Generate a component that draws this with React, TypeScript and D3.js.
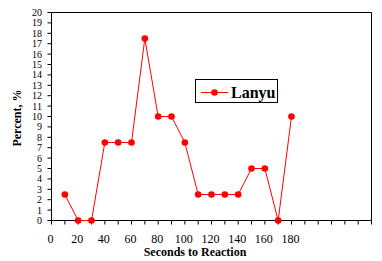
import React from "react";
import * as d3 from "d3";

const seconds = [10, 20, 30, 40, 50, 60, 70, 80, 90, 100, 110, 120, 130, 140, 150, 160, 170, 180];
const lanyu = [2.5, 0, 0, 7.5, 7.5, 7.5, 17.5, 10, 10, 7.5, 2.5, 2.5, 2.5, 2.5, 5, 5, 0, 10];
const xTickValues = d3.range(0, 250, 10);
const xLabelValues = [0, 20, 40, 60, 80, 100, 120, 140, 160, 180];
const yTickValues = d3.range(0, 21, 1);
const seriesName = "Lanyu";
const xTitle = "Seconds to Reaction";
const yTitle = "Percent, %";

export default function App() {
  const W = 382, H = 261;
  const x = d3.scaleLinear().domain([0, 240]).range([51.5, 371.5]);
  const y = d3.scaleLinear().domain([0, 20]).range([220.5, 12.5]);
  const data = seconds.map((s, i) => [s, lanyu[i]] as [number, number]);
  const line = d3.line<[number, number]>().x(d => x(d[0])).y(d => y(d[1]));
  const fs = { fontFamily: "Liberation Serif, DejaVu Serif, serif" };
  const red = "#FF0000";
  return (
    <svg width={W} height={H} style={{ position: "absolute", left: 0, top: 0, background: "#fff" }}>
      <rect x={0} y={0} width={W} height={H} fill="#fff" />
      {/* plot frame */}
      <line x1={x(0)} x2={x(240)} y1={y(20)} y2={y(20)} stroke="#000" />
      <line x1={x(240)} x2={x(240)} y1={y(20)} y2={y(0)} stroke="#000" />
      <line x1={x(0)} x2={x(0)} y1={y(20)} y2={y(0)} stroke="#000" />
      <line x1={x(0)} x2={x(240)} y1={y(0)} y2={y(0)} stroke="#000" />
      {/* y ticks */}
      {yTickValues.map(v => (
        <g key={"y" + v}>
          <line x1={x(0) - 4} x2={x(0)} y1={y(v)} y2={y(v)} stroke="#000" />
          <text x={42} y={y(v)} dy="0.35em" textAnchor="end" fontSize={10} style={fs}>{v}</text>
        </g>
      ))}
      {/* x ticks */}
      {xTickValues.map(v => (
        <line key={"x" + v} x1={x(v)} x2={x(v)} y1={y(0)} y2={y(0) + 4} stroke="#000" />
      ))}
      {xLabelValues.map(v => (
        <text key={"xl" + v} x={x(v) - 1} y={242.5} textAnchor="middle" fontSize={12} style={fs}>{v}</text>
      ))}
      <text x={195} y={256} textAnchor="middle" fontSize={12} fontWeight="bold" style={fs}>{xTitle}</text>
      <text transform={`translate(21,118) rotate(-90)`} textAnchor="middle" fontSize={12} fontWeight="bold" style={fs}>{yTitle}</text>
      {/* series */}
      <path d={line(data) || ""} fill="none" stroke={red} strokeWidth={1} />
      {data.map((d, i) => (
        <circle key={"p" + i} cx={x(d[0])} cy={y(d[1])} r={3.3} fill={red} />
      ))}
      {/* legend */}
      <rect x={195.5} y={79.5} width={82} height={23} fill="#fff" stroke="#000" />
      <line x1={201} x2={228} y1={92.5} y2={92.5} stroke={red} />
      <circle cx={214.5} cy={92.5} r={3.3} fill={red} />
      <text x={231} y={97.5} fontSize={16} fontWeight="bold" style={fs}>{seriesName}</text>
    </svg>
  );
}
